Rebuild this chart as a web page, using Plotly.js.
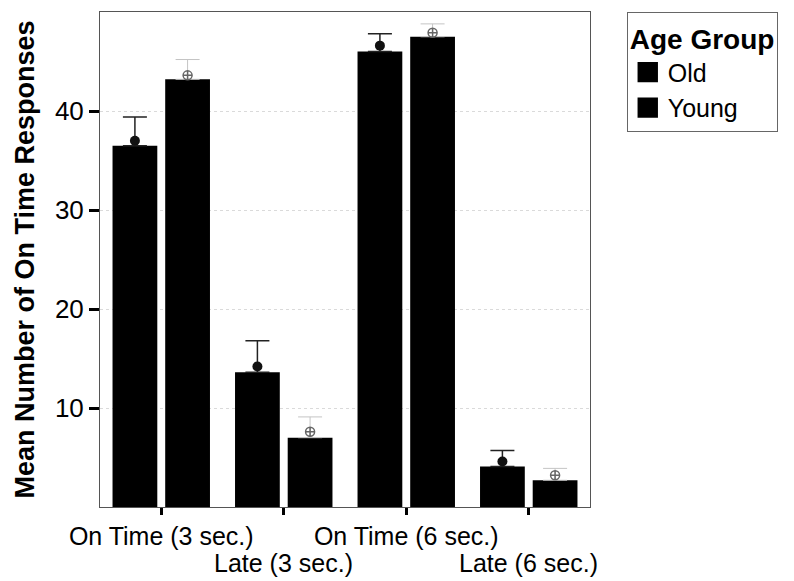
<!DOCTYPE html>
<html>
<head>
<meta charset="utf-8">
<script src="https://cdn.plot.ly/plotly-3.0.1.min.js"></script>
<style>
  html, body { margin: 0; padding: 0; background: #fff; }
  #chart { width: 794px; height: 581px; }
  .legendpoints path { transform: translate(20px, 0px) scale(1.7); }
</style>
</head>
<body>
<div id="chart"></div>
<script>
// ---- data ----
const categories = ['On Time (3 sec.)', 'Late (3 sec.)', 'On Time (6 sec.)', 'Late (6 sec.)'];
const seriesNames = ['Old', 'Young'];
const oldMeans = [36.5, 13.6, 46.0, 4.1];
const youngMeans = [43.2, 7.0, 47.5, 2.7];
const oldErrUp = [2.9, 3.2, 1.8, 1.6];
const youngErrUp = [2.0, 2.1, 1.3, 1.2];
const oldMarks = [37.0, 14.2, 46.6, 4.6];
const youngMarks = [43.6, 7.6, 47.9, 3.2];
const yTickVals = [10, 20, 30, 40];
const upperRowLabels = categories.map((c, i) => (i % 2 === 0 ? c : ''));
const lowerRowCats = categories.filter((c, i) => i % 2 === 1);

const FONT = 'Liberation Sans, Arial, Helvetica, sans-serif';
const zeros = categories.map(() => 0);

const traces = [
  {
    type: 'bar', name: seriesNames[0], x: categories, y: oldMeans,
    offsetgroup: 'old', alignmentgroup: 'g',
    marker: { color: '#000000', line: { width: 0 } },
    error_y: { type: 'data', symmetric: false, array: oldErrUp, arrayminus: zeros,
               color: '#222', thickness: 1.5, width: 12 },
    hoverinfo: 'skip'
  },
  {
    type: 'bar', name: seriesNames[1], x: categories, y: youngMeans,
    offsetgroup: 'young', alignmentgroup: 'g',
    marker: { color: '#000000', line: { width: 0 } },
    error_y: { type: 'data', symmetric: false, array: youngErrUp, arrayminus: zeros,
               color: '#c4c4c4', thickness: 1, width: 12 },
    hoverinfo: 'skip'
  },
  {
    type: 'scatter', mode: 'markers', x: categories, y: oldMarks, showlegend: false,
    offsetgroup: 'old', alignmentgroup: 's',
    marker: { symbol: 'circle', size: 10, color: '#111' }, hoverinfo: 'skip'
  },
  {
    type: 'scatter', mode: 'markers', x: categories, y: youngMarks, showlegend: false,
    offsetgroup: 'young', alignmentgroup: 's',
    marker: { symbol: 'circle-cross-open', size: 9, color: '#666', line: { width: 1.5, color: '#666' } },
    hoverinfo: 'skip'
  }
];

const layout = {
  width: 794, height: 581,
  margin: { l: 100, r: 204, t: 12, b: 74 },
  paper_bgcolor: '#ffffff', plot_bgcolor: '#ffffff',
  font: { family: FONT, color: '#000', size: 26 },
  barmode: 'group', bargap: 0.14, bargroupgap: 0.15,
  scattermode: 'group', scattergap: 0.14,
  xaxis: {
    type: 'category', range: [-0.5, 3.5],
    tickmode: 'array', tickvals: categories, ticktext: upperRowLabels,
    ticks: 'outside', ticklen: 7, tickwidth: 3, tickcolor: '#000',
    tickfont: { family: FONT, size: 25, color: '#000' },
    showline: true, linecolor: '#555', linewidth: 1, mirror: true,
    showgrid: false, zeroline: false, fixedrange: true
  },
  yaxis: {
    range: [0, 50], tickmode: 'array', tickvals: yTickVals,
    ticks: 'outside', ticklen: 10, tickwidth: 3, tickcolor: '#000',
    tickfont: { family: FONT, size: 26, color: '#000' },
    showline: true, linecolor: '#555', linewidth: 1, mirror: true,
    showgrid: true, gridcolor: '#dadada', gridwidth: 1, griddash: 'dot',
    zeroline: false, fixedrange: true,
    title: { text: 'Mean Number of On Time Responses', standoff: 12,
             font: { family: FONT, size: 27, color: '#000', weight: 'bold' } }
  },
  legend: {
    x: 1.075, xanchor: 'left', y: 1, yanchor: 'top',
    bgcolor: '#ffffff', bordercolor: '#666', borderwidth: 1,
    font: { family: FONT, size: 25, color: '#000' },
    title: { text: 'Age Group', font: { family: FONT, size: 28, color: '#000', weight: 'bold' } },
    tracegroupgap: 0, itemclick: false, itemdoubleclick: false
  },
  annotations: lowerRowCats.map(c => ({
    x: c, xref: 'x', y: 0, yref: 'y', yanchor: 'top', xanchor: 'center',
    yshift: -40, text: c, showarrow: false,
    font: { family: FONT, size: 25, color: '#000' }
  })),
  showlegend: true
};

Plotly.newPlot('chart', traces, layout, { staticPlot: true, displayModeBar: false });
</script>
</body>
</html>
